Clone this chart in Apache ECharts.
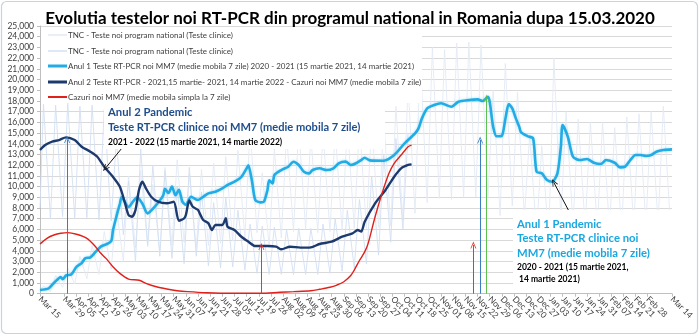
<!DOCTYPE html>
<html><head><meta charset="utf-8">
<script src="https://cdn.jsdelivr.net/npm/echarts@6/dist/echarts.min.js"></script>
<style>html,body{margin:0;padding:0;background:#fff}#c{width:700px;height:336px}</style>
</head><body><div id="c"></div>
<script>
// ---- tick labels (one every 7 days, day 0 = Mar 15) ----
const weekLabels = ['Mar 15','Mar 22','Mar 29','Apr 05','Apr 12','Apr 19','Apr 26','May 03','May 10','May 17','May 24','May 31','Jun 07','Jun 14','Jun 21','Jun 28','Jul 05','Jul 12','Jul 19','Jul 26','Aug 02','Aug 09','Aug 16','Aug 23','Aug 30','Sep 06','Sep 13','Sep 20','Sep 27','Oct 04','Oct 11','Oct 18','Oct 25','Nov 01','Nov 08','Nov 15','Nov 22','Nov 29','Dec 06','Dec 13','Dec 20','Dec 27','Jan 03','Jan 10','Jan 17','Jan 24','Jan 31','Feb 07','Feb 14','Feb 21','Feb 28','Mar 07','Mar 14'];

// ---- series names ----
const nameTnc1 = 'TNC - Teste noi program national (Teste clinice)';
const nameTnc2 = 'TNC - Teste noi program national (Teste clinice) ';
const nameAn1 = 'Anul 1 Teste RT-PCR noi MM7 (medie mobila 7 zile) 2020 - 2021 (15 martie 2021, 14 martie 2021)';
const nameAn2 = 'Anul 2 Teste RT-PCR - 2021,15 martie- 2021, 14 martie 2022 - Cazuri noi MM7 (medie mobila 7 zile)';
const nameCaz = 'Cazuri noi MM7 (medie mobila simpla la 7 zile)';

// ---- Anul 1 MM7 (day index, value) ----
const an1Days = [0,5,8,12,13,15,18,21,24,26,29,32,35,38,41,42,44,46,47,51,54,56,59,62,66,69,71,72,74,76,78,80,82,84,87,91,94,97,101,105,108,112,116,119,120,122,124,127,129,131,132,134,135,139,143,146,149,152,155,157,161,165,169,172,176,179,182,185,187,190,198,204,210,216,218,220,223,227,231,237,241,247,252,255,258,259,261,263,266,268,270,272,274,276,277,281,284,286,289,292,295,298,300,301,304,307,311,315,319,323,326,331,334,337,340,343,346,349,352,355,359,364];
const an1Vals = [350,500,1000,1550,1350,1700,1800,2500,2850,3300,3400,3900,4400,4600,4900,5900,7200,8400,9000,8100,8700,9000,8400,7500,8100,8700,9200,9800,9400,10000,9200,9700,8600,8300,9050,8750,9050,9370,9520,9840,10150,10460,10920,11700,12000,10600,8750,8530,8600,9680,10600,10300,11080,11550,11860,12320,12020,11390,11240,11550,11710,11550,11710,12180,12330,12020,12180,12480,12700,12450,12420,12950,14040,14980,15440,16380,17310,17620,17780,17460,17930,18090,18150,18000,18390,17930,15590,14700,14750,16300,17700,17300,16400,15590,15100,14700,14500,11390,11240,10620,10460,11240,13730,15750,14660,12790,12480,12580,12230,12110,12480,12230,11800,11860,12480,12950,12950,12860,12950,13260,13420,13480];

// ---- Anul 2 MM7 ----
const an2Days = [0,3,7,11,15,20,24,29,33,37,42,46,49,51,53,55,57,59,61,64,68,73,77,80,83,84,86,88,91,92,94,97,99,101,105,107,108,112,116,120,124,131,136,139,144,150,156,161,168,174,180,183,185,187,193,199,204,208,212,214];
const an2Vals = [13420,13880,14200,14350,14600,14350,13730,13260,12790,11860,10920,9990,8440,7350,7190,7820,9680,10460,9840,9060,8590,8440,8590,6800,7040,7350,8700,8120,7820,7500,6880,6570,5950,6410,6410,7040,6250,5950,5320,4860,4450,4450,4390,4150,4390,4300,4330,4640,4860,5320,5640,5950,5800,6720,8440,9680,10920,11700,12020,12080];

// ---- Cazuri noi MM7 ----
const cazDays = [0,4,8,12,16,21,27,32,35,38,42,46,51,56,58,61,67,73,79,85,96,111,127,138,146,156,161,167,171,175,179,181,184,187,189,193,197,201,204,208,212,214];
const cazVals = [4640,5170,5480,5640,5700,5550,5170,4390,3770,3300,2520,1900,1370,1280,1210,970,650,440,280,190,90,40,40,130,190,280,410,600,810,1120,1700,2210,3100,3900,4700,7190,9370,11240,12180,12950,13730,13880];

// ---- TNC daily tests: weekly high / low readings ----
const tnc1Peaks = [700,1700,2400,3500,4500,5800,8000,11000,11500,10200,11800,12500,11200,11600,12200,12800,13400,15500,11300,13500,15000,15600,14800,15100,15200,15900,15900,16100,16300,17500,19500,22000,23000,22800,23400,23500,23200,19000,21500,18800,14800,13800,22000,17000,16300,16000,16000,15500,16500,16800,17000,17500];
const tnc1Lows  = [200,600,900,1400,1800,2300,3000,4300,4400,3900,4500,4800,4300,4500,4700,4900,5200,5700,4400,5200,5800,6000,5700,5800,5900,6100,6100,6200,6300,6800,7500,8500,8900,8800,9000,9000,9000,7300,8200,7200,5600,5300,7000,6500,6200,6100,6100,6000,6300,6400,6500,6700];
const tnc2Peaks = [17700,17600,17800,17500,17600,17200,14500,10500,13500,12000,11500,10000,11800,9500,8500,9000,7800,6500,6300,6200,6000,6100,6100,6500,7000,7800,8800,11000,13000,14500,15000];
const tnc2Lows  = [7000,7200,7000,7100,6900,6800,5500,3000,4500,3500,3300,2800,3500,2600,2400,2500,2200,1900,1800,1800,1800,1800,1800,1900,2100,2400,2800,3600,4800,6000];

// ---- annotation arrows (data coordinates: day, value) ----
const arrows = [
  {from:[15.6,0], to:[15.6,14400], color:'#3a7dc0'},
  {from:[127.5,0], to:[127.5,4400], color:'#e03a32'},
  {from:[249.6,0], to:[249.6,4550], color:'#e03a32'},
  {from:[253.5,0], to:[253.5,14350], color:'#3a7dc0'},
  {from:[257.2,0], to:[257.2,18250], color:'#5cc150'},
  {from:[47.1,13580], to:[37.6,11700], color:'#111111'},
  {from:[304.3,7815], to:[295.9,10400], color:'#111111'}
];

function pairs(d, v) { return d.map((x, i) => [x, v[i]]); }
function weekly(peaks, lows, startVal) {
  const out = [[0, startVal]];
  for (let i = 0; i < peaks.length; i++) {
    out.push([7 * i + 2, peaks[i]]);
    if (i < lows.length) out.push([7 * i + 6, lows[i]]);
  }
  return out;
}

const chevron = 'path://M0,10 L5,0 L10,10 L8.6,10 L5,2.8 L1.4,10 Z';
const FONT = 'Lato, "Open Sans", sans-serif';

const legendTops = [30, 46, 61, 77, 92];
const legendNames = [nameTnc1, nameTnc2, nameAn1, nameAn2, nameCaz];
const legendThick = [1.5, 1.5, 3, 3, 2];

const chart = echarts.init(document.getElementById('c'), null, {renderer: 'canvas'});
chart.setOption({
  animation: false,
  backgroundColor: '#ffffff',
  title: {
    text: 'Evolutia testelor noi RT-PCR din programul national in Romania dupa 15.03.2020',
    left: 'center', top: 5,
    textStyle: {fontFamily: FONT, fontSize: 17, fontWeight: 'bold', color: '#000'}
  },
  grid: {left: 40, right: 28, top: 26, bottom: 42.3, containLabel: false},
  xAxis: {
    type: 'value', min: 0, max: 364, interval: 7,
    axisLine: {show: true, lineStyle: {color: '#bfbfbf'}},
    axisTick: {show: true, length: 3, lineStyle: {color: '#bfbfbf'}},
    splitLine: {show: false},
    axisLabel: {
      rotate: -45, margin: 4, fontSize: 8.5, fontFamily: FONT, color: '#404040',
      showMinLabel: true, showMaxLabel: true, hideOverlap: false,
      formatter: v => weekLabels[Math.round(v / 7)] || ''
    }
  },
  yAxis: {
    type: 'value', min: 0, max: 25000, interval: 1000,
    axisLine: {show: true, lineStyle: {color: '#bfbfbf'}},
    axisTick: {show: true, length: 3, inside: false, lineStyle: {color: '#bfbfbf'}},
    splitLine: {show: true, lineStyle: {color: '#d9d9d9', width: 1}},
    axisLabel: {fontSize: 8.5, fontFamily: FONT, color: '#404040', margin: 6,
      formatter: v => v.toLocaleString('en-US')}
  },
  legend: legendNames.map((n, i) => ({
    data: [n], orient: 'vertical', left: 48, top: legendTops[i], z: 20,
    icon: 'rect', itemWidth: 19, itemHeight: legendThick[i], itemGap: 0,
    textStyle: {fontSize: 8, fontFamily: FONT, color: '#404040', lineHeight: 10, padding: [0,0,0,-4]},
    selectedMode: false, padding: 0
  })),
  series: [
    {name: nameTnc1, type: 'line', showSymbol: false, symbol: 'none', z: 1,
     data: weekly(tnc1Peaks, tnc1Lows, 300), color: '#e3eaf5',
     lineStyle: {width: 0.9, color: '#e3eaf5'}},
    {name: nameTnc2, type: 'line', showSymbol: false, symbol: 'none', z: 1,
     data: weekly(tnc2Peaks, tnc2Lows, 8000), color: '#d3e0f3',
     lineStyle: {width: 0.9, color: '#d3e0f3'}},
    {name: nameAn1, type: 'line', showSymbol: false, symbol: 'none', smooth: 0.25, z: 3,
     data: pairs(an1Days, an1Vals), color: '#21ace6',
     lineStyle: {width: 2.6, color: '#21ace6', shadowColor: 'rgba(33,172,230,0.35)', shadowBlur: 3}},
    {name: nameAn2, type: 'line', showSymbol: false, symbol: 'none', smooth: 0.25, z: 3,
     data: pairs(an2Days, an2Vals), color: '#1d3a6e',
     lineStyle: {width: 2.4, color: '#1d3a6e'}},
    {name: nameCaz, type: 'line', showSymbol: false, symbol: 'none', smooth: 0.3, z: 3,
     data: pairs(cazDays, cazVals), color: '#e0201b',
     lineStyle: {width: 1.4, color: '#e0201b'},
     markLine: {
       silent: true, animation: false, symbol: ['none', chevron], symbolSize: [6, 7],
       label: {show: false},
       data: arrows.map(a => [
         {coord: a.from, lineStyle: {color: a.color, width: 1, type: 'solid'}, itemStyle: {color: a.color}},
         {coord: a.to}
       ])
     }}
  ],
  graphic: [
    {type: 'rect', z: 10, shape: {x: 1.5, y: 1.5, width: 696, height: 332, r: 5},
     style: {fill: 'none', stroke: '#c9d3df', lineWidth: 1.2}},
    {type: 'rect', z: 10, shape: {x: 41, y: 27, width: 381, height: 76},
     style: {fill: '#ffffff'}},
    {type: 'rect', z: 10, shape: {x: 104, y: 103, width: 281, height: 46},
     style: {fill: '#ffffff'}},
    {type: 'rect', z: 10, shape: {x: 513, y: 210, width: 159, height: 81},
     style: {fill: '#ffffff'}},
    {type: 'text', z: 21, x: 108, y: 112, style: {text: 'Anul 2 Pandemic', font: 'bold 11.3px ' + FONT, fill: '#1f4e8c', verticalAlign: 'middle'}},
    {type: 'text', z: 21, x: 108, y: 127.5, style: {text: 'Teste RT-PCR clinice noi MM7 (medie mobila 7 zile)', font: 'bold 11.1px ' + FONT, fill: '#1f4e8c', verticalAlign: 'middle'}},
    {type: 'text', z: 21, x: 108, y: 142, style: {text: '2021 - 2022 (15 martie 2021, 14 martie 2022)', font: 'bold 8.5px ' + FONT, fill: '#000', verticalAlign: 'middle'}},
    {type: 'text', z: 21, x: 517, y: 224, style: {text: 'Anul 1 Pandemic', font: 'bold 11.3px ' + FONT, fill: '#1aa7e0', verticalAlign: 'middle'}},
    {type: 'text', z: 21, x: 517, y: 238.5, style: {text: 'Teste RT-PCR clinice noi', font: 'bold 11.3px ' + FONT, fill: '#1aa7e0', verticalAlign: 'middle'}},
    {type: 'text', z: 21, x: 517, y: 253.5, style: {text: 'MM7 (medie mobila 7 zile)', font: 'bold 11.3px ' + FONT, fill: '#1aa7e0', verticalAlign: 'middle'}},
    {type: 'text', z: 21, x: 517, y: 267, style: {text: '2020 - 2021 (15 martie 2021,', font: 'bold 8.5px ' + FONT, fill: '#000', verticalAlign: 'middle'}},
    {type: 'text', z: 21, x: 517, y: 279, style: {text: ' 14 martie 2021)', font: 'bold 8.5px ' + FONT, fill: '#000', verticalAlign: 'middle'}}
  ]
});
</script>
</body></html>
